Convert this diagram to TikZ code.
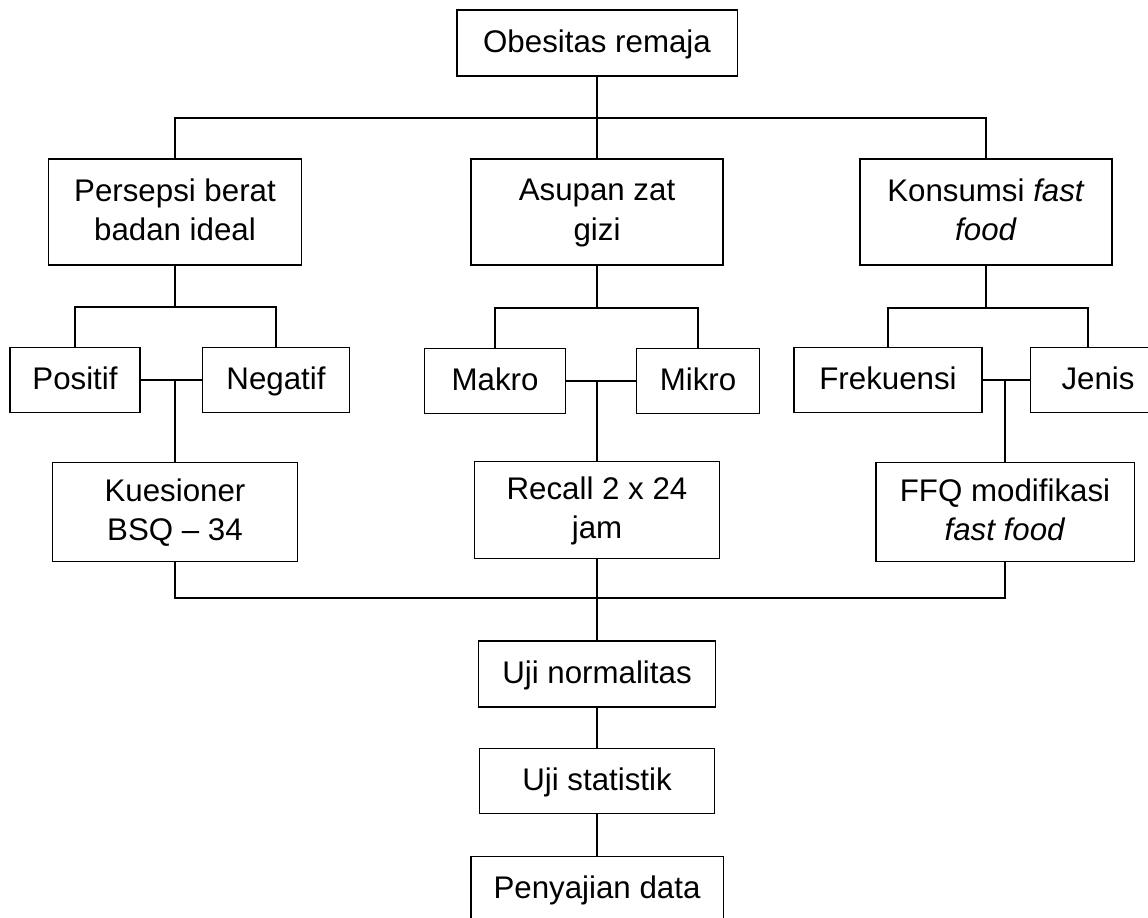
\documentclass[tikz,border=0pt]{standalone}
\usepackage{fontspec}
\setmainfont{Liberation Sans}

\begin{document}
\begin{tikzpicture}[x=0.02cm,y=-0.02cm,
        kotak/.style={draw,line width=1.1pt,inner sep=0pt,align=center,text depth=0.25em,
            font=\fontsize{17.8}{22.5}\selectfont},
        garis/.style={line width=1.1pt}]
        \useasboundingbox (0,0) rectangle (1148,918);
        \clip (0,0) rectangle (1148,918);
        \node[kotak,minimum width=5.62cm,minimum height=1.32cm] (obes) at (597,43) {Obesitas remaja};
        \node[kotak,minimum width=5.06cm,minimum height=2.12cm] (persepsi) at (175,212) {Persepsi berat\\badan ideal};
        \node[kotak,minimum width=5.04cm,minimum height=2.12cm] (asupan) at (597,212) {Asupan zat\\gizi};
        \node[kotak,minimum width=5.04cm,minimum height=2.12cm] (konsumsi) at (986,212) {Konsumsi \textit{fast}\\\textit{food}};
        \node[kotak,minimum width=2.6cm,minimum height=1.3cm] (positif) at (75,380) {Positif};
        \node[kotak,minimum width=2.94cm,minimum height=1.3cm] (negatif) at (276,380) {Negatif};
        \node[kotak,minimum width=2.82cm,minimum height=1.3cm] (makro) at (495,381) {Makro};
        \node[kotak,minimum width=2.46cm,minimum height=1.3cm] (mikro) at (698,381) {Mikro};
        \node[kotak,minimum width=3.76cm,minimum height=1.3cm] (frekuensi) at (888,380) {Frekuensi};
        \node[kotak,minimum width=2.7cm,minimum height=1.3cm,text width=2.36cm] (jenis) at (1098,380) {Jenis};
        \node[kotak,minimum width=4.9cm,minimum height=1.98cm] (kuesioner) at (175,512) {Kuesioner\\BSQ -- 34};
        \node[kotak,minimum width=4.9cm,minimum height=1.94cm] (recall) at (597,510) {Recall 2 x 24\\jam};
        \node[kotak,minimum width=5.18cm,minimum height=1.98cm] (ffq) at (1005,512) {FFQ modifikasi\\\textit{fast food}};
        \node[kotak,minimum width=4.74cm,minimum height=1.32cm] (normal) at (597,674) {Uji normalitas};
        \node[kotak,minimum width=4.7cm,minimum height=1.3cm] (statistik) at (597,781) {Uji statistik};
        \node[kotak,minimum width=5.06cm,minimum height=1.3cm] (sajian) at (597,889) {Penyajian data};
        \coordinate (bus1) at (597,118);
        \coordinate (pbus) at (175,307);
        \coordinate (abus) at (597,308);
        \coordinate (kbus) at (986,308);
        \coordinate (jtop) at (1088,348);
        \coordinate (pmid) at (175,380);
        \coordinate (amid) at (597,381);
        \coordinate (kmid) at (1005,380);
        \coordinate (bbus) at (597,598);
        \draw[garis] (obes) -- (asupan);
        \draw[garis] (persepsi.north) |- (bus1) -| (konsumsi.north);
        \draw[garis] (persepsi) -- (pbus);
        \draw[garis] (positif.north) |- (pbus) -| (negatif.north);
        \draw[garis] (asupan) -- (abus);
        \draw[garis] (makro.north) |- (abus) -| (mikro.north);
        \draw[garis] (konsumsi) -- (kbus);
        \draw[garis] (frekuensi.north) |- (kbus) -| (jtop);
        \draw[garis] (positif) -- (negatif);
        \draw[garis] (makro) -- (mikro);
        \draw[garis] (frekuensi) -- (jenis);
        \draw[garis] (pmid) -- (kuesioner);
        \draw[garis] (amid) -- (recall);
        \draw[garis] (kmid) -- (ffq);
        \draw[garis] (kuesioner.south) |- (bbus) -| (ffq.south);
        \draw[garis] (recall) -- (normal);
        \draw[garis] (normal) -- (statistik);
        \draw[garis] (statistik) -- (sajian);
\end{tikzpicture}
\end{document}
